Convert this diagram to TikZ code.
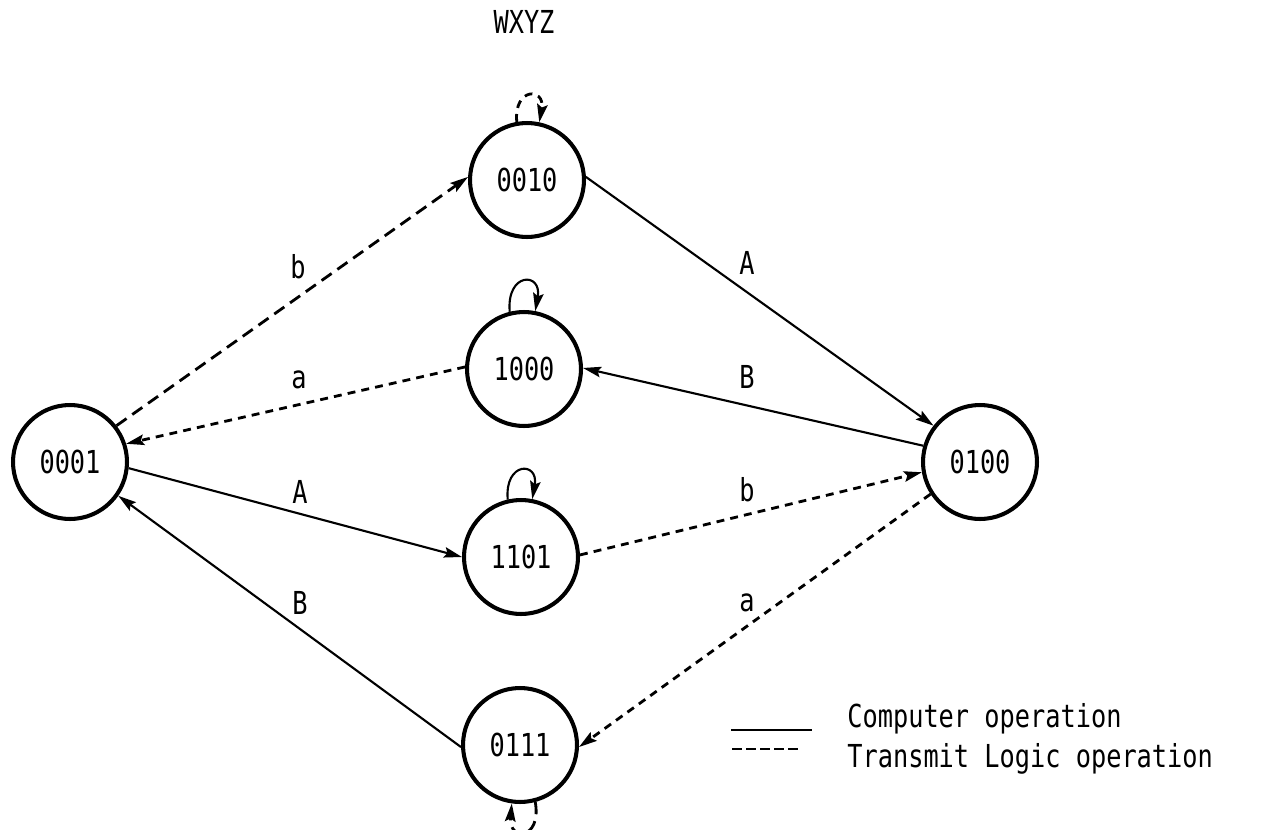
\documentclass[tikz,border=0pt]{standalone}
\usepackage{fontspec}
\newfontfamily\typefont[FakeStretch=0.8]{DejaVu Sans Mono}
\usetikzlibrary{arrows.meta}

\begin{document}
\begin{tikzpicture}[x=0.02cm, y=-0.02cm, font=\typefont\fontsize{18}{20}\selectfont,
    state/.style={circle, draw, line width=2.3pt, minimum size=2.28cm, inner sep=0pt},
    computer/.style={line width=1.2pt, -{Stealth[length=0.36cm, width=0.21cm, inset=0.06cm]}},
    transmit/.style={line width=1.6pt, dash pattern=on 7pt off 4pt, -{Stealth[length=0.36cm, width=0.21cm, inset=0.06cm]}},
    transmitshort/.style={transmit, dash pattern=on 4.5pt off 3.5pt},
    keytext/.style={anchor=base west, inner sep=0pt}]
    \useasboundingbox (0,0) rectangle (1262,829);

    \node (title) at (524,22) {WXYZ};

    \node[state] (s0001) at (70,462) {0001};
    \node[state] (s0010) at (527,180) {0010};
    \node[state] (s1000) at (524,369) {1000};
    \node[state] (s1101) at (521,557) {1101};
    \node[state] (s0111) at (520,745) {0111};
    \node[state] (s0100) at (980,462) {0100};

    \draw[transmit] (s0001.38) -- (s0010.177);
    \draw[transmitshort] (s1000.178) -- (s0001.18);
    \draw[computer] (s0001.-6) -- (s1101.180);
    \draw[computer] (s0111.182) -- (s0001.-35);
    \draw[computer] (s0010.3) -- (s0100.142);
    \draw[computer] (s0100.164) -- (s1000.1);
    \draw[transmitshort] (s1101.2) -- (s0100.190);
    \draw[transmitshort] (s0100.213) -- (s0111.-2);

    \draw[transmitshort] (s0010.100) to[out=95, in=80, looseness=4] (s0010.78);
    \draw[computer] (s1000.104) to[out=95, in=80, looseness=4] (s1000.79);
    \draw[computer] (s1101.103) to[out=95, in=80, looseness=4] (s1101.79);
    \draw[transmit] (s0111.-75) to[out=-80, in=-95, looseness=4.2] (s0111.-98);

    \node (bl) at (298,267) {b};
    \node (al) at (299,380) {a};
    \node (Al) at (300,492) {A};
    \node (Bl) at (300,603) {B};
    \node (Ar) at (747,263) {A};
    \node (Br) at (747,377) {B};
    \node (br) at (747,490) {b};
    \node (ar) at (747,603) {a};

    \coordinate (solidL) at (731,730);
    \coordinate (solidR) at (812,730);
    \coordinate (dashL) at (732,749);
    \coordinate (dashR) at (800,749);
    \draw[line width=1.2pt] (solidL) -- (solidR);
    \draw[line width=1.6pt, dash pattern=on 5.5pt off 2.5pt] (dashL) -- (dashR);
    \node[keytext] (keycomp) at (847,727) {Computer operation};
    \node[keytext] (keytran) at (847,767) {Transmit Logic operation};
\end{tikzpicture}
\end{document}
